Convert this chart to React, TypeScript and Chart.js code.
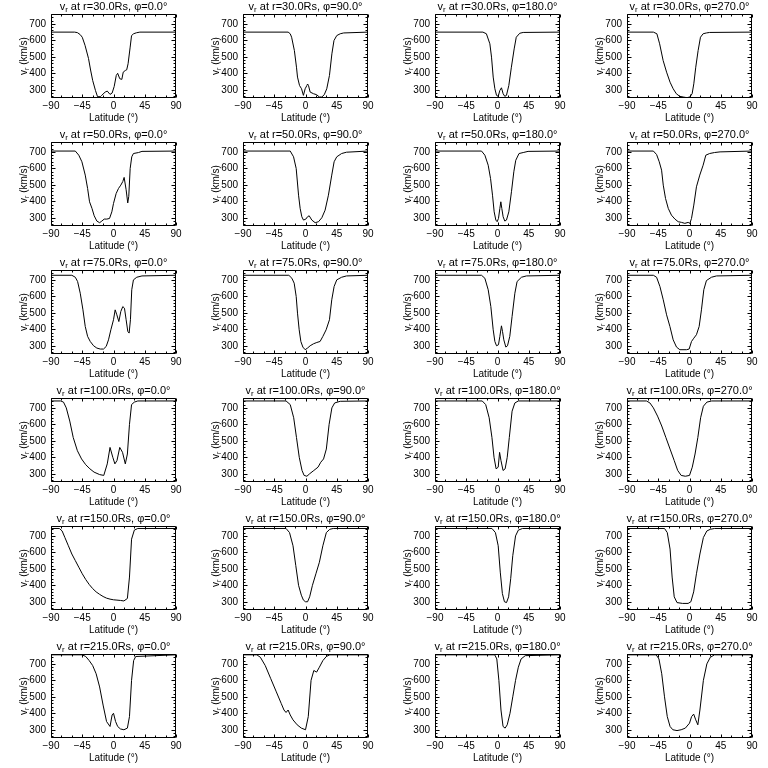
import React, { useEffect, useRef } from "react";
import { Chart, registerables } from "chart.js";

Chart.register(...registerables);

// ---------- tick labels / axes ----------
const xTicks = [-90, -45, 0, 45, 90];
const yTicks = [300, 400, 500, 600, 700];
const xMin = -90;
const xMax = 90;
const yMin = 250;
const yMax = 760;
const radii = ["30.0", "50.0", "75.0", "100.0", "150.0", "215.0"];
const phis = ["0.0", "90.0", "180.0", "270.0"];

// ---------- data: latitude (deg) and v_r (km/s) ----------
const lat_r30_p0 = [-90,-56,-52,-48,-45,-41,-36,-33,-30,-26,-23,-19,-17,-12,-9,-5,-2,1,4,6,9,12,14,17,19,21,24,26,29,33,38,90];
const v_r30_p0 = [650,650,647,635,619,570,490,420,357,296,258,258,266,286,292,272,280,320,387,400,367,363,407,417,421,458,559,629,640,646,650,650];
const lat_r30_p90 = [-90,-25,-22,-20,-16,-13,-11.5,-8.6,-5.7,-3,-0.5,2,3,4.3,6.7,11.5,16,20,23.5,27,30.6,34.5,38,41,45,50,55,90];
const v_r30_p90 = [650,650,640,619,538,437,377,326,306,266,306,326,335,326,286,276,270,256,256,270,306,387,518,599,629,640,645,650];
const lat_r30_p180 = [-90,-21,-16,-11,-8.6,-6.2,-3.8,-1.4,1,3.4,5.7,8.1,10.5,12.9,16.3,20,24,27,32,37,90];
const v_r30_p180 = [650,650,640,579,498,377,306,266,260,296,312,276,260,266,326,437,548,619,643,648,650];
const lat_r30_p270 = [-90,-52,-47,-43,-38,-33,-28,-23.5,-19,-14,-9,-4,0.5,3.8,6.2,9,12.4,15.8,19.6,24.4,29,90];
const v_r30_p270 = [650,650,640,579,478,407,346,306,276,260,256,252,256,276,336,437,538,619,640,645,648,650];

const lat_r50_p0 = [-90,-55,-50,-45.5,-40.7,-37.3,-34.5,-31,-27.8,-24,-20,-16.8,-13.4,-9.6,-5.7,-2.4,0,3.8,7.2,10.5,13.4,15.3,18.2,20.5,22,24,26.3,28.7,36,41,90];
const v_r50_p0 = [705,705,680,640,559,478,397,357,312,280,270,280,292,292,296,336,387,447,478,498,520,545,470,390,430,599,670,690,696,703,705];
const lat_r50_p90 = [-90,-22,-17.2,-13.4,-10,-7.7,-5.3,-2.9,0.5,2.9,5.3,9.1,13.9,18.7,23.5,28.2,33,37.8,41.2,45,52,59,90];
const v_r50_p90 = [705,705,670,599,437,357,306,286,292,306,312,286,270,276,300,346,437,559,640,670,690,698,705];
const lat_r50_p180 = [-90,-23,-18.2,-13.4,-10,-7.2,-4.8,-2.4,-0.5,1.4,3.4,4.8,6.2,8.1,10.5,12.9,16.3,20.1,23.5,26.3,31,37,44,90];
const v_r50_p180 = [705,705,680,619,538,437,336,286,276,296,357,397,357,306,280,286,336,458,579,649,690,696,703,705];
const lat_r50_p270 = [-90,-52,-47.4,-43.6,-40.2,-37.8,-34.5,-30.6,-26,-21,-16.3,-11.5,-6.7,-1.9,0.5,2.9,6.2,10,14.8,19.6,23.5,29,36,44,90];
const v_r50_p270 = [705,705,684,640,589,498,417,357,316,292,276,272,266,272,266,296,377,488,559,619,680,690,696,700,705];

const lat_r75_p0 = [-90,-60,-55,-51.7,-47.9,-44,-40.7,-37.3,-33.5,-28.7,-24,-19,-14.4,-10.5,-7.2,-3.8,0,2.4,4.8,7.7,10.5,13.4,15.8,18.2,20.6,22.5,24.4,26.3,28.7,33.5,41,90];
const v_r75_p0 = [728,728,716,690,619,518,417,357,326,300,286,280,280,296,336,397,458,518,488,447,508,538,528,458,387,377,458,640,700,716,724,728];
const lat_r75_p90 = [-90,-24,-19.6,-16.3,-13.4,-11.5,-9.1,-6.7,-3.8,-0.5,2.9,6.7,11.5,16.3,21,25,29.7,34.5,37.8,41.2,45,52,59,90];
const v_r75_p90 = [728,728,710,680,599,498,397,326,292,276,286,300,312,320,326,357,397,458,579,660,700,716,724,728];
const lat_r75_p180 = [-90,-23,-18.2,-13.4,-9.6,-6.2,-3.8,-1.4,1.4,3.4,5.7,7.2,9.1,12,14.4,17.7,21,25,28.2,34.5,41.6,90];
const v_r75_p180 = [728,728,710,640,538,397,326,300,306,357,421,387,336,292,300,357,478,619,690,716,724,728];
const lat_r75_p270 = [-90,-52,-47.4,-42.6,-37.8,-33,-28.2,-23.5,-18.7,-13.9,-4.3,-0.5,2.9,6.2,10,13.9,17.2,20.6,24.4,31.6,38.8,90];
const v_r75_p270 = [728,728,716,660,579,488,417,336,292,276,276,280,326,346,367,417,518,640,696,716,724,728];

const lat_r100_p0 = [-90,-76,-72,-68,-63,-58,-52,-46,-40,-34,-28,-20,-14,-9,-5,-1,2,5,9,13,17,20,23,26,30,35,90];
const v_r100_p0 = [742,742,735,700,620,520,440,390,355,330,310,295,290,360,460,400,360,380,460,430,360,420,600,720,735,742,742];
const lat_r100_p90 = [-90,-28,-22,-17,-13,-9,-5,-2,2,6,12,18,22,26,30,34,38,42,50,90];
const v_r100_p90 = [742,742,720,640,520,400,320,290,285,300,320,340,370,390,450,600,700,730,740,742];
const lat_r100_p180 = [-90,-22,-17,-12,-8,-5,-2,1,3,5,8,11,14,17,21,25,30,90];
const v_r100_p180 = [742,742,720,640,520,400,330,340,430,380,320,330,400,520,680,730,742,742];
const lat_r100_p270 = [-90,-62,-57,-52,-46,-40,-34,-28,-22,-17,-12,-6,0,4,8,12,16,20,25,32,90];
const v_r100_p270 = [742,742,730,700,650,590,520,450,380,320,290,285,290,340,420,520,640,710,735,742,742];

const lat_r150_p0 = [-90,-78,-74,-70,-65,-60,-55,-50,-45,-40,-35,-30,-25,-20,-15,-10,-5,0,5,10,15,20,23,26,30,35,90];
const v_r150_p0 = [745,745,730,690,640,590,550,510,470,435,405,380,360,345,332,322,316,312,310,308,305,320,450,680,735,745,745];
const lat_r150_p90 = [-90,-28,-23,-18,-14,-10,-6,-3,0,3,6,10,15,20,25,30,35,40,90];
const v_r150_p90 = [745,745,720,640,520,400,340,310,300,300,330,400,470,540,640,720,740,745,745];
const lat_r150_p180 = [-90,-8,-3,1,4,7,10,13,16,19,22,26,30,36,90];
const v_r150_p180 = [745,745,720,640,480,350,300,295,330,440,580,700,735,745,745];
const lat_r150_p270 = [-90,-36,-32,-28,-25,-22,-18,-10,-2,2,6,10,15,20,25,30,36,90];
const v_r150_p270 = [745,745,720,620,450,330,295,290,290,300,360,470,590,690,730,740,745,745];

const lat_r215_p0 = [-90,-45,-40,-35,-30,-25,-20,-15,-10,-5,-2,0,3,6,10,15,20,23,26,29,32,90];
const v_r215_p0 = [755,755,745,720,690,640,560,450,350,320,390,400,350,320,305,300,310,380,600,720,745,755];
const lat_r215_p90 = [-90,-70,-65,-58,-50,-42,-35,-31,-28,-25,-22,-18,-12,-6,0,4,8,12,16,20,25,30,35,90];
const v_r215_p90 = [755,755,740,690,610,530,460,420,405,420,390,360,330,310,300,380,600,660,650,680,720,745,755,755];
const lat_r215_p180 = [-90,-4,-1,2,5,8,11,14,18,22,26,30,34,40,90];
const v_r215_p180 = [755,755,730,600,420,320,310,330,400,500,600,680,730,750,755];
const lat_r215_p270 = [-90,-48,-44,-40,-36,-32,-28,-24,-18,-12,-6,0,3,6,9,12,15,20,25,30,36,90];
const v_r215_p270 = [755,755,730,640,500,380,320,300,295,300,310,340,380,395,360,330,420,600,700,740,755,755];

const latRows = [
  [lat_r30_p0, lat_r30_p90, lat_r30_p180, lat_r30_p270],
  [lat_r50_p0, lat_r50_p90, lat_r50_p180, lat_r50_p270],
  [lat_r75_p0, lat_r75_p90, lat_r75_p180, lat_r75_p270],
  [lat_r100_p0, lat_r100_p90, lat_r100_p180, lat_r100_p270],
  [lat_r150_p0, lat_r150_p90, lat_r150_p180, lat_r150_p270],
  [lat_r215_p0, lat_r215_p90, lat_r215_p180, lat_r215_p270],
];
const vRows = [
  [v_r30_p0, v_r30_p90, v_r30_p180, v_r30_p270],
  [v_r50_p0, v_r50_p90, v_r50_p180, v_r50_p270],
  [v_r75_p0, v_r75_p90, v_r75_p180, v_r75_p270],
  [v_r100_p0, v_r100_p90, v_r100_p180, v_r100_p270],
  [v_r150_p0, v_r150_p90, v_r150_p180, v_r150_p270],
  [v_r215_p0, v_r215_p90, v_r215_p180, v_r215_p270],
];

// ---------- layout ----------
const PANEL_W = 192;
const PANEL_H = 128;
const FONT_FAMILY = "'Liberation Sans', 'DejaVu Sans', sans-serif";
const FONT_SIZE = 10;
const TITLE_SIZE = 11;

function drawSubText(
  ctx: CanvasRenderingContext2D,
  parts: { t: string; sub?: boolean }[],
  x: number,
  y: number,
  size: number
) {
  const subSize = Math.round(size * 0.7);
  const widths = parts.map((p) => {
    ctx.font = `${p.sub ? subSize : size}px ${FONT_FAMILY}`;
    return ctx.measureText(p.t).width;
  });
  const total = widths.reduce((a, b) => a + b, 0);
  let cx = x - total / 2;
  parts.forEach((p, i) => {
    ctx.font = `${p.sub ? subSize : size}px ${FONT_FAMILY}`;
    ctx.fillText(p.t, cx, p.sub ? y + 2 : y);
    cx += widths[i];
  });
}

const idlBox = {
  id: "idlBox",
  afterDraw(chart: any, _args: any, opts: any) {
    const { ctx, chartArea } = chart;
    const { left, right, top, bottom } = chartArea;
    const xs = chart.scales.x;
    const ys = chart.scales.y;
    ctx.save();
    ctx.strokeStyle = "#000";
    ctx.fillStyle = "#000";
    ctx.lineWidth = 1;
    const L = Math.round(left) + 0.5;
    const R = Math.round(right) - 0.5;
    const T = Math.round(top) + 0.5;
    const B = Math.round(bottom) - 0.5;
    ctx.beginPath();
    ctx.rect(L, T, R - L, B - T);
    ctx.stroke();
    ctx.beginPath();
    for (let v = xMin; v <= xMax; v += 15) {
      const major = v % 45 === 0;
      const len = major ? 3 : 2;
      const px = Math.round(xs.getPixelForValue(v)) + 0.5;
      ctx.moveTo(px, B);
      ctx.lineTo(px, B - len);
      ctx.moveTo(px, T);
      ctx.lineTo(px, T + len);
    }
    for (let v = 260; v <= yMax; v += 20) {
      const major = v % 100 === 0;
      const len = major ? 4 : 2;
      const py = Math.round(ys.getPixelForValue(v)) + 0.5;
      ctx.moveTo(L, py);
      ctx.lineTo(L + len, py);
      ctx.moveTo(R, py);
      ctx.lineTo(R - len, py);
    }
    ctx.stroke();

    ctx.textBaseline = "alphabetic";
    ctx.textAlign = "left";
    const cx = (left + right) / 2;
    drawSubText(
      ctx,
      [{ t: "v" }, { t: "r", sub: true }, { t: ` at r=${opts.r}Rs, \u03C6=${opts.phi}\u00B0` }],
      cx,
      top - 4,
      TITLE_SIZE
    );
    drawSubText(ctx, [{ t: "Latitude (\u00B0)" }], cx, bottom + 23, FONT_SIZE);
    ctx.save();
    ctx.translate(27, (top + bottom) / 2);
    ctx.rotate(-Math.PI / 2);
    drawSubText(ctx, [{ t: "v" }, { t: "r", sub: true }, { t: " (km/s)" }], 0, 0, FONT_SIZE);
    ctx.restore();
    ctx.restore();
  },
};

function Panel({ lat, v, r, phi }: { lat: number[]; v: number[]; r: string; phi: string }) {
  const ref = useRef<HTMLCanvasElement | null>(null);
  useEffect(() => {
    if (!ref.current) return;
    const chart = new Chart(ref.current, {
      type: "line",
      data: {
        datasets: [
          {
            data: lat.map((x, i) => ({ x, y: v[i] })),
            borderColor: "#000",
            borderWidth: 1,
            pointRadius: 0,
            tension: 0,
            fill: false,
          },
        ],
      },
      options: {
        animation: false,
        responsive: false,
        events: [],
        layout: { padding: { left: 0, right: 16, top: 14, bottom: 0 } },
        plugins: {
          legend: { display: false },
          tooltip: { enabled: false },
          title: { display: false },
          idlBox: { r, phi },
        } as any,
        scales: {
          x: {
            type: "linear",
            min: xMin,
            max: xMax,
            afterBuildTicks: (s: any) => {
              s.ticks = xTicks.map((value) => ({ value }));
            },
            afterFit: (s: any) => {
              s.height = 30;
            },
            ticks: {
              color: "#000",
              font: { family: FONT_FAMILY, size: FONT_SIZE },
              padding: 2,
              maxRotation: 0,
              autoSkip: false,
              callback: (val: any) => String(val).replace("-", "\u2212"),
            },
            grid: { display: false, drawTicks: false },
            border: { display: false },
          },
          y: {
            type: "linear",
            min: yMin,
            max: yMax,
            afterBuildTicks: (s: any) => {
              s.ticks = yTicks.map((value) => ({ value }));
            },
            afterFit: (s: any) => {
              s.width = 51;
            },
            ticks: {
              color: "#000",
              font: { family: FONT_FAMILY, size: FONT_SIZE },
              padding: 5,
              autoSkip: false,
            },
            grid: { display: false, drawTicks: false },
            border: { display: false },
          },
        },
      },
      plugins: [idlBox],
    });
    return () => chart.destroy();
  }, [lat, v, r, phi]);
  return <canvas ref={ref} width={PANEL_W} height={PANEL_H} style={{ display: "block", width: PANEL_W, height: PANEL_H }} />;
}

export default function App() {
  return (
    <div style={{ position: "absolute", left: 0, top: 0, width: 768, height: 768, background: "#fff" }}>
      {radii.map((r, ri) =>
        phis.map((phi, pi) => (
          <div key={`${ri}-${pi}`} style={{ position: "absolute", left: pi * PANEL_W, top: ri * PANEL_H, width: PANEL_W, height: PANEL_H }}>
            <Panel lat={latRows[ri][pi]} v={vRows[ri][pi]} r={r} phi={phi} />
          </div>
        ))
      )}
    </div>
  );
}
